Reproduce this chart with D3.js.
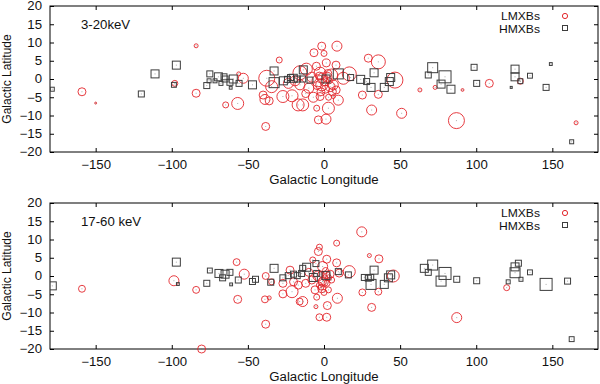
<!DOCTYPE html>
<html><head><meta charset="utf-8">
<script src="https://cdn.jsdelivr.net/npm/d3@7"></script>
<style>body{margin:0;background:#fff}svg text{font-family:"Liberation Sans",Arial,sans-serif;fill:#111}</style>
</head><body><div id="c"></div>
<script>
// ---- data: [longitude, latitude, significance] ----
const xTicks = [-150,-100,-50,0,50,100,150];
const yTicks = [20,15,10,5,0,-5,-10,-15,-20];
const panelLabels = ["3-20keV","17-60 keV"];
const seriesNames = ["LMXBs","HMXBs"];

const lmxbSoft = [
[-159,-3.5,16],[-150,-6.6,1],[-84,9.1,4],[-98,-1.2,9],[-84,-3.9,16],[-64.6,-7.1,9],[-56.7,-6.7,36],
[-53,0.2,25],[-56,1.4,4],[-29.4,5.2,9],[-37.6,0.2,64],[-38.3,-13,16],[-38.8,-5.6,25],[-36,-6,16],
[-40,-4.4,16],[-27,-4.8,36],[-21,-4.6,36],[-17,-7.1,36],[8.5,9,25],[-1.5,9,16],[-6.6,7.2,16],[0,7,9],
[1.5,4.4,16],[7.9,3.8,16],[-11.6,2.7,36],[-15.8,1.7,49],[-2.6,1.6,36],[5,1.1,36],[12.7,0.2,36],
[16.6,1.4,49],[-34.4,-2.1,36],[-23.4,-1.2,25],[-15.8,-1.6,25],[-1.5,-1.6,36],[4,-2.1,25],[-7,-5,25],
[-2.6,-4.8,16],[9.4,-5.8,25],[-14,-7.1,36],[2.9,-8,36],[-4.8,-8,9],[-3.7,-11.2,16],[1.3,-11,25],
[29.1,5.7,16],[35.7,4.7,49],[46.6,-0.3,64],[25.2,-4.4,16],[35.7,-4.2,16],[31.3,-8.5,25],[51,-9.4,25],
[6.1,-4.8,4],[6.1,-1.6,25],[63,-3,4],[73,-2.3,4],[91,-3,2],[87,-11.4,64],[108.6,-1.2,16],[129,-0.6,9],
[165.6,-12,4],[-8,0.5,25],[-4,-0.5,36],[2,0.5,25],[-10,-2.5,25],[-19,-0.5,25],[8,-3,16],[-5,3.5,16],
[-12,-4,16],[3,-5,9],
[-3,0.8,16],[0.5,-0.8,16],[-1,0.3,25],[2.5,1.5,16],[-4.5,-1.8,16],[1,-2.8,16],[3.5,-0.5,9],
[-2,-3.5,16],[5.5,-3.5,16]
];
const hmxbSoft = [
[-178.5,-2.8,4],[-111,1.4,16],[-97,3.8,16],[-120,-4.1,9],[-98.6,-1.6,6],[-77,-1.8,9],[-75,1.4,9],
[-75.5,-0.5,4],[-71.6,-0.5,4],[-69.4,0.6,16],[-67.7,-1.2,4],[-65.7,0.6,9],[-65,0,9],[-61.8,-0.9,9],
[-59.6,0,16],[-61.3,-2.4,2],[-55.8,-1.2,9],[-47,-1.6,16],[-32.8,2.2,16],[-32.8,-1,25],[-26.7,-0.5,16],
[-24,-0.1,9],[-22,0.4,9],[-20.2,0.2,16],[-17.5,0,9],[-13.6,2.5,16],[-14,0,9],[-9.2,-0.3,9],[1.3,0,16],
[9.4,1.4,25],[17.5,0.4,9],[24.1,-0.1,16],[28,-0.7,9],[30.9,-2.3,16],[32.9,1.7,16],[39.6,-2.3,16],
[42.9,-0.7,16],[43.8,0.4,16],[71.4,3.1,25],[68.5,1.1,9],[79.5,0.6,36],[76.9,-1.4,16],[83.4,-2.8,16],
[98.6,3.2,9],[100.3,-1.2,9],[125.5,2.7,16],[125.5,0.6,16],[129,-0.6,6],[135.3,0.9,6],[145.9,-2.3,9],
[149,4.1,2],[162.7,-17.2,4],[123,-2.3,1]
];
const lmxbHard = [
[-159,-3.5,12],[-98.6,-1.3,25],[-84,-3.8,12],[-80.4,-20,16],[-57.4,3.8,12],[-52.4,0.5,25],[-56.7,-6.4,16],
[-38.3,0,12],[-38.8,-6.4,12],[-36,-6,4],[-38.3,-13.2,16],[-27,-4.9,16],[-21,-4.3,36],[-27,-2,16],
[-22.3,1.6,16],[-16,-7,12],[8.3,9,9],[-3,7.9,9],[-3.7,6.7,16],[1.8,4.6,16],[-7.4,4.4,9],[8.3,3.6,16],
[-0.9,2.6,25],[-34.4,-1.6,9],[-20,-1.6,16],[-8,-1.1,16],[-0.5,-1.6,25],[5,-1.1,9],[-16.9,-2.5,16],
[-5.9,-3.8,16],[2.9,-3.8,9],[8.8,-6.1,25],[-14,-7,25],[-4.8,-5.8,9],[-5.3,-8.4,4],[2.2,-8.1,16],
[-3,-11.3,12],[1.8,-11.3,16],[1.3,0.3,16],[24.8,12.1,25],[29.8,5.6,4],[36.1,4.7,16],[16.6,1.2,36],
[45.5,0,36],[25.2,-4.5,12],[35.7,-4.3,12],[31.3,-8.6,16],[87.2,-11.4,25],[120,-3.2,9],
[-10,1,16],[-4,0,25],[4,0.5,16],[-12,-2,16],[10,0.8,16],[-2,-3,9],
[-2,0.5,9],[0.5,-0.5,9],[-1,-1.5,16],[2,-2,9],[-3,-2.5,9],[1,1.5,9],[3,-0.5,9],[-1.5,-3.5,16],[0,-4.5,9]
];
const hmxbHard = [
[-178.5,-2.7,16],[-97,3.8,16],[-96,-2.2,2],[-77,-2,9],[-75,1.5,6],[-69,0.7,16],[-66.6,-0.5,9],
[-65,0.5,16],[-61.8,1,9],[-61,-2.3,2],[-56.3,-1.1,9],[-47,-1.5,9],[-45,-0.9,9],[-35,-1.7,9],
[-32.8,2.1,16],[-27,-0.5,9],[-23.5,0.1,9],[-20,0.5,9],[-17.6,0.1,9],[-14,2.1,9],[-11.4,2.4,16],
[-5.3,3.4,9],[-4.8,0.7,9],[-14.7,0.7,9],[-7,-0.4,16],[1.3,0.1,16],[9.4,1.2,9],[16,0.3,9],[26.5,-0.4,9],
[29.1,-0.6,9],[30.7,-0.4,9],[32.9,1.6,16],[30.9,-2.3,25],[39.6,-2.3,16],[42.3,-0.5,16],[43.8,0.3,16],
[65.9,2.1,16],[68.5,1,9],[71.4,3,25],[79.5,0.7,36],[76.9,-1.4,25],[87.2,-0.9,9],[100.3,-1.3,9],
[121,-1.6,4],[127.7,3.5,9],[125.5,2.5,16],[125.5,0.9,25],[129.4,-0.9,4],[135.3,1,6],[145.9,-2.3,36],
[160,-1.4,9],[162.7,-17.3,6]
];

const panels = [
  {label: panelLabels[0], lm: lmxbSoft, hm: hmxbSoft, top: 6, bottom: 152},
  {label: panelLabels[1], lm: lmxbHard, hm: hmxbHard, top: 203, bottom: 349}
];

const W = 600, H = 384, left = 50, right = 598;
const RED = "#e3262b", GREY = "#3d3d3d", FS = "12px", LFS = "11px";
const svg = d3.select("#c").append("svg").attr("width", W).attr("height", H);
const x = d3.scaleLinear().domain([-180,180]).range([left,right]);
const rs = d3.scaleSqrt().domain([0,64]).range([0,8]);

panels.forEach(p => {
  const y = d3.scaleLinear().domain([-20,20]).range([p.bottom,p.top]);
  const g = svg.append("g");
  const tickLen = 4;
  const ax = (gen, tx, ty, labels) => {
    const a = g.append("g").attr("transform", `translate(${tx},${ty})`).call(gen);
    a.select(".domain").remove();
    a.selectAll("line").attr("stroke","#000");
    a.selectAll("text").attr("class","hz").style("font-size",FS);
    if (!labels) a.selectAll("text").remove();
    return a;
  };
  ax(d3.axisBottom(x).tickValues(xTicks).tickSize(-tickLen).tickPadding(8), 0, p.bottom, true);
  ax(d3.axisTop(x).tickValues(xTicks).tickSize(-tickLen), 0, p.top, false);
  ax(d3.axisLeft(y).tickValues(yTicks).tickSize(-tickLen).tickPadding(8), left, 0, true);
  ax(d3.axisRight(y).tickValues(yTicks).tickSize(-tickLen), right, 0, false);
  g.append("rect").attr("x",left).attr("y",p.top).attr("width",right-left).attr("height",p.bottom-p.top)
    .attr("fill","none").attr("stroke","#000").attr("stroke-width",1);

  const clip = "clip"+p.top;
  g.append("clipPath").attr("id",clip).append("rect").attr("x",left).attr("y",p.top-10).attr("width",right-left).attr("height",p.bottom-p.top+20);
  const m = g.append("g").attr("clip-path",`url(#${clip})`);
  m.selectAll("circle.lm").data(p.lm).join("circle")
    .attr("cx",d=>x(d[0])).attr("cy",d=>y(d[1])).attr("r",d=>rs(d[2]))
    .attr("fill","none").attr("stroke",RED).attr("stroke-width",0.9);
  m.selectAll("rect.hm").data(p.hm).join("rect")
    .attr("x",d=>x(d[0])-rs(d[2])).attr("y",d=>y(d[1])-rs(d[2]))
    .attr("width",d=>2*rs(d[2])).attr("height",d=>2*rs(d[2]))
    .attr("fill","none").attr("stroke",GREY).attr("stroke-width",1);
  m.selectAll("rect.dot").data(p.lm.concat(p.hm)).join("rect")
    .attr("x",d=>x(d[0])-0.5).attr("y",d=>y(d[1])-0.5).attr("width",1).attr("height",1)
    .attr("fill","#777").attr("opacity",0.6);

  g.append("text").attr("class","hz").attr("x",81).attr("y",p.top+23).style("font-size",FS).text(p.label);
  g.append("text").attr("class","hz").attr("x",(left+right)/2).attr("y",p.bottom+32).attr("text-anchor","middle")
    .style("font-size",FS).text("Galactic Longitude");
  g.append("text").attr("transform",`translate(11,${(p.top+p.bottom)/2}) rotate(-90)`).attr("text-anchor","middle")
    .style("font-size",FS).text("Galactic Latitude");
  const lx = 565, ly = p.top + 10;
  g.append("text").attr("class","hz").attr("x",540).attr("y",ly+4).attr("text-anchor","end").style("font-size",LFS).text(seriesNames[0]);
  g.append("circle").attr("cx",lx).attr("cy",ly).attr("r",2.6).attr("fill","none").attr("stroke",RED);
  g.append("text").attr("class","hz").attr("x",540).attr("y",ly+16.5).attr("text-anchor","end").style("font-size",LFS).text(seriesNames[1]);
  g.append("rect").attr("x",lx-2.5).attr("y",ly+9.5).attr("width",5).attr("height",5).attr("fill","none").attr("stroke",GREY);
});
svg.selectAll("text.hz").each(function(){
  const len = this.getComputedTextLength();
  d3.select(this).attr("textLength", len*1.1).attr("lengthAdjust","spacingAndGlyphs");
});
</script></body></html>
